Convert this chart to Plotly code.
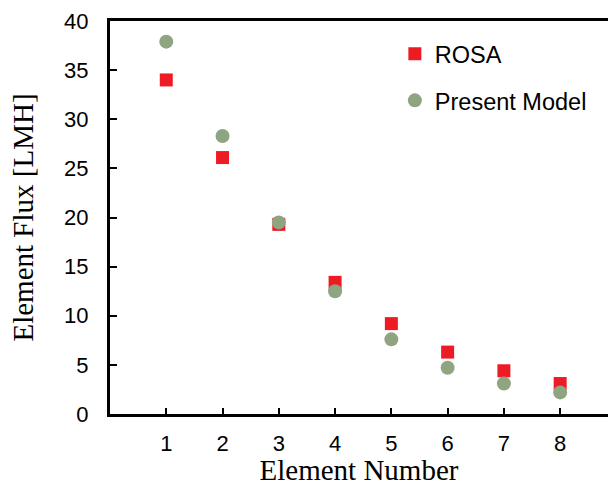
import plotly.graph_objects as go

elements = [1, 2, 3, 4, 5, 6, 7, 8]
rosa = [34.0, 26.1, 19.3, 13.4, 9.2, 6.3, 4.4, 3.1]
present_model = [37.9, 28.3, 19.5, 12.5, 7.6, 4.7, 3.1, 2.2]
y_ticks = [0, 5, 10, 15, 20, 25, 30, 35, 40]

sans = "Liberation Sans, Arial, sans-serif"
serif = "Liberation Serif, Times New Roman, serif"

fig = go.Figure()
fig.add_trace(go.Scatter(
    x=elements, y=rosa, mode="markers", name="ROSA", legendgroup="a",
    marker=dict(symbol="square", size=13, color="#ED1C24", line=dict(width=0)),
))
fig.add_trace(go.Scatter(
    x=elements, y=present_model, mode="markers", name="Present Model", legendgroup="b",
    marker=dict(symbol="circle", size=14, color="#8FA582", line=dict(width=0)),
))

fig.update_layout(
    width=608, height=486,
    margin=dict(l=110, r=0, t=21, b=72, autoexpand=False),
    paper_bgcolor="white", plot_bgcolor="white",
    font=dict(family=sans, size=22, color="black"),
    legend=dict(
        x=0.572, y=0.972, xanchor="left", yanchor="top",
        bgcolor="rgba(0,0,0,0)", font=dict(family=sans, size=23.5, color="black"),
        tracegroupgap=13, itemwidth=30,
    ),
    showlegend=True,
)
fig.update_xaxes(
    range=[0, 8.85], tickvals=elements, ticktext=[str(e) for e in elements],
    showgrid=False, zeroline=False, automargin=False,
    showline=True, linecolor="black", linewidth=3, mirror=True,
    ticks="inside", ticklen=6, tickwidth=2, tickcolor="black",
    tickfont=dict(family=sans, size=22), ticklabelstandoff=8,
    title=dict(text="Element Number", font=dict(family=serif, size=29), standoff=19),
)
fig.update_yaxes(
    range=[0, 40], tickvals=y_ticks,
    showgrid=False, zeroline=False, automargin=False,
    showline=True, linecolor="black", linewidth=3,
    ticks="inside", ticklen=7, tickwidth=2, tickcolor="black",
    tickfont=dict(family=sans, size=22), ticklabelstandoff=14,
    title=dict(text="Element Flux [LMH]", font=dict(family=serif, size=29), standoff=22),
)

fig.write_html("out.html")
